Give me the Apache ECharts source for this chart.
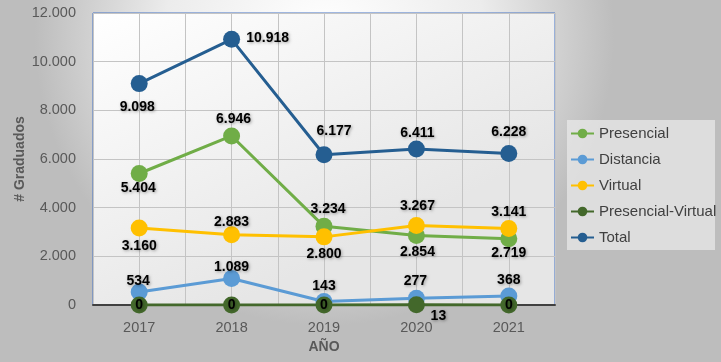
<!DOCTYPE html>
<html>
<head>
<meta charset="utf-8">
<script src="https://cdn.jsdelivr.net/npm/echarts@6/dist/echarts.min.js"></script>
<style>html,body{margin:0;padding:0;}#c{width:721px;height:362px;}</style>
</head>
<body>
<div id="c"></div>
<script>
const categories = ['2017', '2018', '2019', '2020', '2021'];
const presencial = [5404, 6946, 3234, 2854, 2719];
const distancia = [534, 1089, 143, 277, 368];
const virtual = [3160, 2883, 2800, 3267, 3141];
const presencialVirtual = [0, 0, 0, 13, 0];
const total = [9098, 10918, 6177, 6411, 6228];
const seriesNames = ['Presencial', 'Distancia', 'Virtual', 'Presencial-Virtual', 'Total'];
const yMin = 0, yMax = 12000, yInterval = 2000;

const fmt = v => String(Math.round(v)).replace(/\B(?=(\d{3})+(?!\d))/g, '.');

const chart = echarts.init(document.getElementById('c'));

const labelOffsets = {
  'Presencial': [[-1, 15], [2, -17], [4, -17], [1, 17], [0, 14]],
  'Distancia': [[-1, -11], [0, -11], [0, -15], [-1, -17], [0, -16]],
  'Virtual': [[0, 18], [0, -13], [0, 17], [1, -19], [0, -16]],
  'Presencial-Virtual': [[0, 0], [0, 0], [0, 0], [22, 11], [0, 0]],
  'Total': [[-2, 24], [36, -1], [10, -24], [1, -16], [0, -21]]
};
const colors = {
  'Presencial': '#70ad47',
  'Distancia': '#5b9bd5',
  'Virtual': '#ffc000',
  'Presencial-Virtual': '#43682b',
  'Total': '#255e91'
};
const values = {
  'Presencial': presencial,
  'Distancia': distancia,
  'Virtual': virtual,
  'Presencial-Virtual': presencialVirtual,
  'Total': total
};

const series = seriesNames.map(name => ({
  name: name,
  type: 'line',
  xAxisIndex: 0,
  data: values[name].map((v, i) => ({
    value: v,
    label: { offset: labelOffsets[name][i] }
  })),
  symbol: 'circle',
  symbolSize: 17,
  itemStyle: { color: colors[name] },
  lineStyle: { color: colors[name], width: 3 },
  emphasis: { disabled: true },
  label: {
    show: true,
    position: 'inside',
    formatter: p => fmt(p.value),
    color: '#000',
    fontFamily: 'Liberation Sans',
    fontWeight: 'bold',
    fontSize: 14,
    textShadowColor: 'rgba(0,0,0,0.35)',
    textShadowBlur: 3,
    textShadowOffsetX: 1,
    textShadowOffsetY: 1
  },
  animation: false
}));

chart.setOption({
  animation: false,
  backgroundColor: {
    type: 'radial', x: 0.45, y: 0.1, r: 0.8,
    colorStops: [{ offset: 0, color: '#ffffff' }, { offset: 0.55, color: '#ececec' }, { offset: 1, color: '#bdbdbd' }]
  },
  graphic: [{
    type: 'rect', z: -1,
    shape: { x: 567, y: 120, width: 148, height: 130 },
    style: { fill: 'rgba(235,235,235,0.7)' }
  }],
  grid: {
    left: 93, right: 166, top: 13, bottom: 57,
    show: true,
    borderColor: '#4472c4', borderWidth: 1,
    backgroundColor: {
      type: 'linear', x: 0, y: 0, x2: 0.3, y2: 1,
      colorStops: [{ offset: 0, color: '#ffffff' }, { offset: 1, color: '#e6e6e6' }]
    }
  },
  legend: {
    orient: 'vertical',
    left: 565, top: 121,
    itemGap: 11,
    itemWidth: 23, itemHeight: 12,
    data: seriesNames,
    textStyle: { fontFamily: 'Liberation Sans', fontSize: 15, color: '#404040' }
  },
  xAxis: [{
    type: 'category',
    data: categories,
    boundaryGap: true,
    name: 'AÑO',
    nameLocation: 'middle',
    nameGap: 30,
    nameTextStyle: { fontFamily: 'Liberation Sans', fontWeight: 'bold', fontSize: 14, color: '#595959' },
    axisLine: { lineStyle: { color: '#404040', width: 2 } },
    axisTick: { show: false },
    axisLabel: { margin: 15, fontFamily: 'Liberation Sans', fontSize: 14.5, color: '#595959' },
    splitLine: { show: false }
  }, {
    type: 'value', min: 0, max: 5, interval: 0.5, position: 'bottom',
    axisLine: { show: false }, axisTick: { show: false }, axisLabel: { show: false },
    splitLine: { show: true, lineStyle: { color: '#c4c4c4', width: 1 } }
  }],
  yAxis: {
    type: 'value',
    min: yMin, max: yMax, interval: yInterval,
    name: '# Graduados',
    nameLocation: 'middle',
    nameGap: 66,
    nameMoveOverlap: false,
    nameTextStyle: { fontFamily: 'Liberation Sans', fontWeight: 'bold', fontSize: 14, color: '#595959' },
    axisLine: { show: false },
    axisTick: { show: false },
    axisLabel: { margin: 17, formatter: v => fmt(v), fontFamily: 'Liberation Sans', fontSize: 14.5, color: '#595959' },
    splitLine: { lineStyle: { color: '#c4c4c4', width: 1 } }
  },
  series: series
});
</script>
</body>
</html>
